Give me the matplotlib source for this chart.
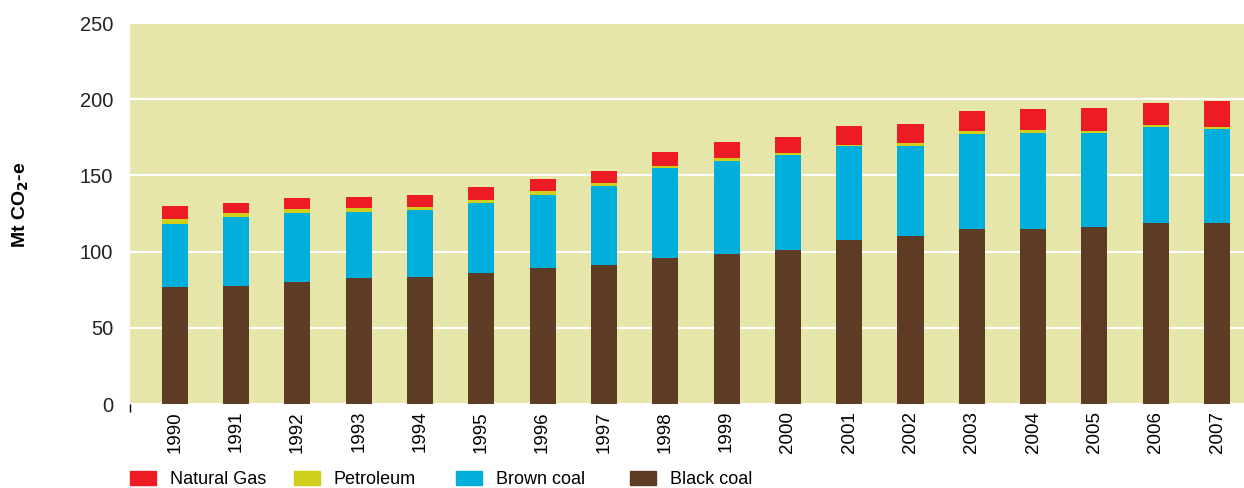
import numpy as np
import matplotlib
matplotlib.use("Agg")
import matplotlib.pyplot as plt
from matplotlib.patches import Patch

plt.rcParams['font.family'] = ['Liberation Sans', 'DejaVu Sans']

# Datos (Mt CO2-e)
years = ['1990', '1991', '1992', '1993', '1994', '1995', '1996', '1997', '1998',
         '1999', '2000', '2001', '2002', '2003', '2004', '2005', '2006', '2007']
black_coal = [76.6, 77.2, 79.8, 82.5, 83.1, 85.8, 89.0, 91.0, 95.6,
              98.2, 100.9, 107.4, 110.0, 114.6, 114.6, 115.9, 118.5, 118.5]
brown_coal = [41.3, 45.3, 45.3, 43.3, 44.0, 45.9, 47.9, 51.8, 59.1,
              61.1, 62.4, 61.8, 59.2, 62.4, 63.1, 61.8, 63.1, 61.8]
petroleum = [3.3, 2.6, 2.7, 2.6, 2.0, 2.0, 2.6, 2.0, 1.3,
             2.0, 1.3, 0.7, 1.9, 2.0, 1.9, 1.3, 1.3, 1.3]
natural_gas = [8.5, 6.6, 7.2, 7.2, 7.8, 8.5, 7.9, 7.9, 9.2,
               10.4, 10.4, 12.3, 12.4, 13.5, 14.2, 15.4, 14.9, 17.5]
series_labels = ['Natural Gas', 'Petroleum', 'Brown coal', 'Black coal']

c_gas = '#ED1C24'
c_pet = '#CDCF1B'
c_brown = '#00AEDB'
c_black = '#5E3B24'
c_bg = '#E7E6AA'

fig = plt.figure(figsize=(12.44, 4.88), dpi=100)
ax = fig.add_axes([130 / 1244, 84 / 488, 1114 / 1244, 381 / 488])
ax.set_facecolor(c_bg)

x = np.arange(len(years))
w = 0.425
b1 = np.array(black_coal)
b2 = b1 + np.array(brown_coal)
b3 = b2 + np.array(petroleum)
ax.bar(x, black_coal, w, color=c_black, zorder=3)
ax.bar(x, brown_coal, w, bottom=b1, color=c_brown, zorder=3)
ax.bar(x, petroleum, w, bottom=b2, color=c_pet, zorder=3)
ax.bar(x, natural_gas, w, bottom=b3, color=c_gas, zorder=3)

ax.set_xlim(-0.73, 17.44)
ax.set_ylim(0, 250)
ax.set_yticks([0, 50, 100, 150, 200, 250])
ax.yaxis.grid(True, color='white', linewidth=1.5, zorder=1)
ax.set_axisbelow(True)
for s in ax.spines.values():
    s.set_visible(False)

ax.set_xticks(x)
ax.set_xticklabels(years, rotation=90, fontsize=13.5)
ax.tick_params(axis='x', length=0, pad=5)
ax.tick_params(axis='y', length=0, pad=12, labelsize=14.5, labelcolor='#222222')
# pequeña marca en el origen
ax.set_xticks([-0.73], minor=True)
ax.tick_params(axis='x', which='minor', length=6, width=1, color='black', direction='out')

ax.set_ylabel(r'Mt CO$_\mathbf{2}$-e', fontsize=14, fontweight='bold')
ax.yaxis.set_label_coords(-0.089, 0.522)

# leyenda: una entrada por posicion
colors = [c_gas, c_pet, c_brown, c_black]
leg_x = [130, 294, 456, 630]
for lab, col, lx in zip(series_labels, colors, leg_x):
    fig.legend(handles=[Patch(color=col, label=lab)], loc='center left',
               bbox_to_anchor=(lx / 1244, 8.5 / 488), borderaxespad=0, borderpad=0,
               frameon=False, fontsize=13, handlelength=1.45, handleheight=0.85,
               handletextpad=0.75)

plt.savefig('out.png', dpi=100)
